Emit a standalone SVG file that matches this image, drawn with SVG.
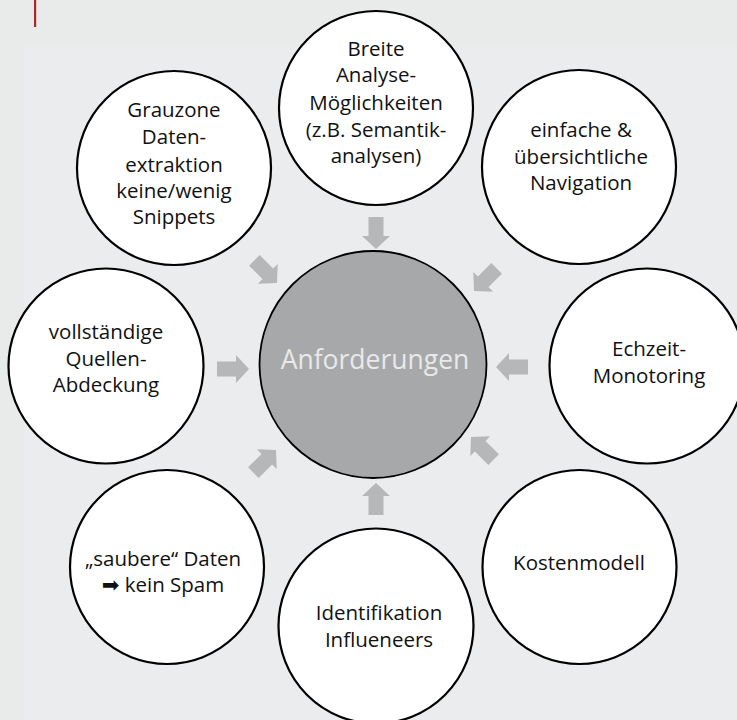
<svg xmlns="http://www.w3.org/2000/svg" width="737" height="720" viewBox="0 0 737 720">
<style>
.node circle{fill:#ffffff;stroke:#000000;stroke-width:2.2}
.lbl{font-family:"Open Sans","Noto Sans","Liberation Sans",sans-serif;font-size:20.5px;fill:#111111;text-anchor:middle}
.ctr{font-family:"Open Sans","Noto Sans","Liberation Sans",sans-serif;font-size:26.5px;fill:#e9e9e9;text-anchor:middle}
.arr{fill:#b6b7b8}
</style>
<defs>
<path id="arr" d="M0 0 L-13 -14 L-13 -7.5 L-32 -7.5 L-32 7.5 L-13 7.5 L-13 14 Z"/>
</defs>
<rect x="0" y="0" width="737" height="720" fill="#e9eaea"/>
<rect x="24" y="45" width="713" height="675" fill="#ebeced"/>
<rect x="34" y="0" width="2.2" height="27" fill="#a52a2e"/>
<g id="connectors" class="arr">
<use href="#arr" transform="translate(376 249) rotate(90)"/>
<use href="#arr" transform="translate(376 483) rotate(-90)"/>
<use href="#arr" transform="translate(249 369)"/>
<use href="#arr" transform="translate(496 367) rotate(180)"/>
<use href="#arr" transform="translate(277 283) rotate(45)"/>
<use href="#arr" transform="translate(474 291) rotate(135)"/>
<use href="#arr" transform="translate(276 450) rotate(-45)"/>
<use href="#arr" transform="translate(471 437) rotate(-135)"/>
</g>
<g id="center">
<circle cx="373" cy="364.5" r="113.5" fill="#a7a8aa" stroke="#000" stroke-width="1.8"/>
<text class="ctr" x="375" y="369">Anforderungen</text>
</g>
<g id="n-breite" class="node">
<circle cx="376" cy="108" r="97"/>
<text class="lbl"><tspan x="376" y="56">Breite</tspan><tspan x="376" y="82">Analyse-</tspan><tspan x="376" y="110">Möglichkeiten</tspan><tspan x="376" y="137">(z.B. Semantik-</tspan><tspan x="376" y="163">analysen)</tspan></text>
</g>
<g id="n-navigation" class="node">
<circle cx="579" cy="167" r="97"/>
<text class="lbl"><tspan x="581" y="137">einfache &amp;</tspan><tspan x="581" y="164">übersichtliche</tspan><tspan x="581" y="190">Navigation</tspan></text>
</g>
<g id="n-echtzeit" class="node">
<circle cx="647" cy="366" r="97.5"/>
<text class="lbl"><tspan x="649" y="356">Echzeit-</tspan><tspan x="649" y="383">Monotoring</tspan></text>
</g>
<g id="n-kosten" class="node">
<circle cx="579.5" cy="567" r="97"/>
<text class="lbl" x="579" y="570">Kostenmodell</text>
</g>
<g id="n-influencer" class="node">
<circle cx="376" cy="626" r="97.5"/>
<text class="lbl"><tspan x="379" y="620">Identifikation</tspan><tspan x="379" y="647">Influeneers</tspan></text>
</g>
<g id="n-sauber" class="node">
<circle cx="167" cy="567" r="97"/>
<text class="lbl"><tspan x="163" y="566">„saubere“ Daten</tspan><tspan x="163" y="592"><tspan font-family="'DejaVu Sans',sans-serif" font-size="21">➡</tspan> kein Spam</tspan></text>
</g>
<g id="n-quellen" class="node">
<circle cx="106" cy="366" r="97.5"/>
<text class="lbl"><tspan x="106" y="339">vollständige</tspan><tspan x="106" y="365.5">Quellen-</tspan><tspan x="106" y="392">Abdeckung</tspan></text>
</g>
<g id="n-grauzone" class="node">
<circle cx="174" cy="168" r="97"/>
<text class="lbl"><tspan x="174" y="117">Grauzone</tspan><tspan x="174" y="144">Daten-</tspan><tspan x="174" y="172">extraktion</tspan><tspan x="174" y="198">keine/wenig</tspan><tspan x="174" y="224">Snippets</tspan></text>
</g>
</svg>
